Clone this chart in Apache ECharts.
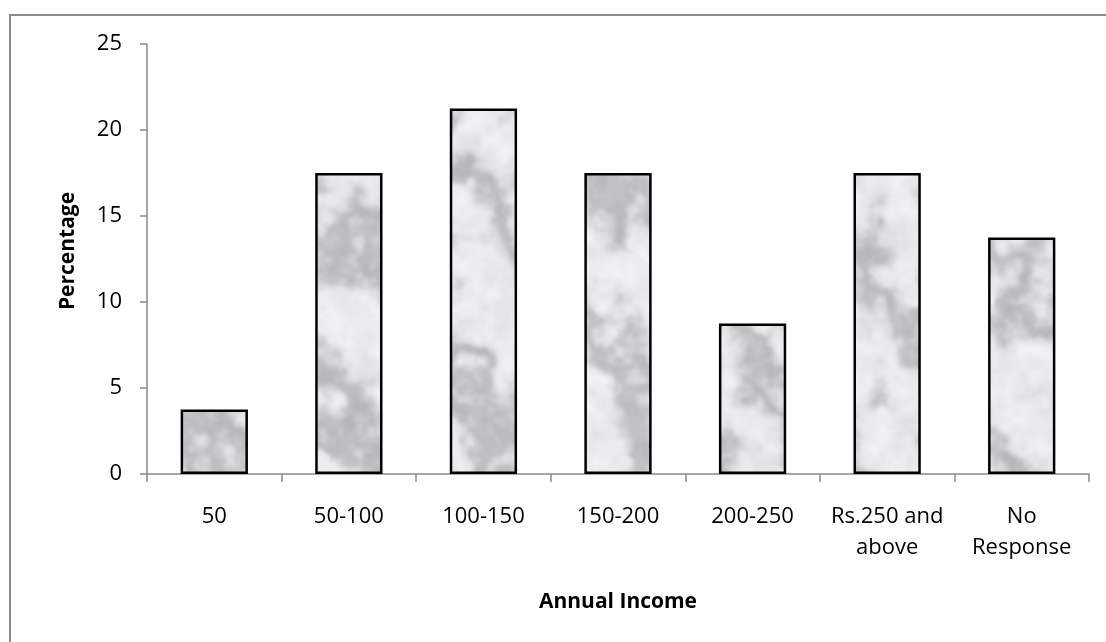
<!DOCTYPE html>
<html>
<head>
<meta charset="utf-8">
<title>Annual Income</title>
<script src="https://cdn.jsdelivr.net/npm/echarts@6/dist/echarts.min.js"></script>
<style>
  html, body { margin: 0; padding: 0; background: #ffffff; }
  #chart { width: 1106px; height: 642px; }
</style>
</head>
<body>
<div id="chart"></div>
<script>
// Share of respondents by annual income group
const categories = ['50', '50-100', '100-150', '150-200', '200-250', 'Rs.250 and\nabove', 'No\nResponse'];
const percentages = [3.75, 17.5, 21.25, 17.5, 8.75, 17.5, 13.75];
const yMin = 0;
const yMax = 25;
const yStep = 5;
const xTitle = 'Annual Income';
const yTitle = 'Percentage';

const FONT = '"Open Sans", "Noto Sans", sans-serif';
const W = 1106, H = 642;

// Soft grey marble fill for the bars, painted once over the whole chart area
function hash(ix, iy) {
  const s = Math.sin(ix * 127.1 + iy * 311.7) * 43758.5453;
  return s - Math.floor(s);
}
function smooth(t) { return t * t * (3 - 2 * t); }
function valueNoise(x, y) {
  const ix = Math.floor(x), iy = Math.floor(y);
  const fx = smooth(x - ix), fy = smooth(y - iy);
  const a = hash(ix, iy), b = hash(ix + 1, iy);
  const c = hash(ix, iy + 1), d = hash(ix + 1, iy + 1);
  const top = a + (b - a) * fx;
  const bot = c + (d - c) * fx;
  return top + (bot - top) * fy;
}
function fbm(x, y, oct) {
  let v = 0, amp = 0.5, f = 1;
  for (let o = 0; o < oct; o++) {
    v += amp * valueNoise(x * f, y * f);
    f *= 2; amp *= 0.5;
  }
  return v;
}
function marbleCanvas(w, h) {
  const raw = document.createElement('canvas');
  raw.width = w; raw.height = h;
  const ctx = raw.getContext('2d');
  const img = ctx.createImageData(w, h);
  for (let y = 0; y < h; y++) {
    for (let x = 0; x < w; x++) {
      const n = fbm(x / 40, y / 40, 4);
      const m = 0.5 + 0.5 * Math.sin(x * 0.04 - y * 0.03 + 8 * n);
      const vein = Math.pow(1 - m, 3);
      const cloud = fbm(x / 14 + 30, y / 14 + 70, 3);
      let g = 240 - 46 * vein - 26 * (cloud - 0.5) - 6;
      g = Math.max(170, Math.min(248, g));
      const i = (y * w + x) * 4;
      img.data[i] = g - 3;
      img.data[i + 1] = g - 1;
      img.data[i + 2] = g + 2;
      img.data[i + 3] = 255;
    }
  }
  ctx.putImageData(img, 0, 0);
  const out = document.createElement('canvas');
  out.width = w; out.height = h;
  const octx = out.getContext('2d');
  octx.filter = 'blur(1.2px)';
  octx.drawImage(raw, 0, 0);
  return out;
}
const marble = marbleCanvas(W, H);

const chart = echarts.init(document.getElementById('chart'), null, { renderer: 'canvas' });

const axisGrey = '#8a8a8a';

chart.setOption({
  animation: false,
  backgroundColor: '#ffffff',
  grid: { left: 147, right: 17, top: 44, bottom: 168, containLabel: false },
  graphic: [
    {
      type: 'rect',
      shape: { x: 10, y: 15, width: 1200, height: 700 },
      style: { fill: 'none', stroke: '#8c8c8c', lineWidth: 2 },
      silent: true,
      z: -1
    },
    {
      type: 'text',
      x: 618, y: 602,
      style: {
        text: xTitle, font: 'bold 21px ' + FONT, fill: '#000000',
        align: 'center', verticalAlign: 'middle'
      }
    },
    {
      type: 'text',
      x: 68, y: 251,
      rotation: Math.PI / 2,
      style: {
        text: yTitle, font: 'bold 21px ' + FONT, fill: '#000000',
        align: 'center', verticalAlign: 'middle'
      }
    }
  ],
  xAxis: {
    type: 'category',
    data: categories,
    axisLine: { lineStyle: { color: axisGrey, width: 1.5 } },
    axisTick: { show: true, length: 8, alignWithLabel: false, lineStyle: { color: axisGrey, width: 1.5 } },
    axisLabel: {
      interval: 0, margin: 27, color: '#000000',
      fontFamily: FONT, fontSize: 22, lineHeight: 31, align: 'center'
    },
    splitLine: { show: false }
  },
  yAxis: {
    type: 'value',
    min: yMin, max: yMax, interval: yStep,
    axisLine: { show: true, lineStyle: { color: axisGrey, width: 1.5 } },
    axisTick: { show: true, length: 7, lineStyle: { color: axisGrey, width: 1.5 } },
    axisLabel: { margin: 25, color: '#000000', fontFamily: FONT, fontSize: 22 },
    splitLine: { show: false }
  },
  series: [
    {
      type: 'bar',
      data: percentages,
      barWidth: '50%',
      itemStyle: {
        color: { image: marble, repeat: 'no-repeat' },
        borderColor: '#000000',
        borderWidth: 2.5
      }
    }
  ]
});
</script>
</body>
</html>
